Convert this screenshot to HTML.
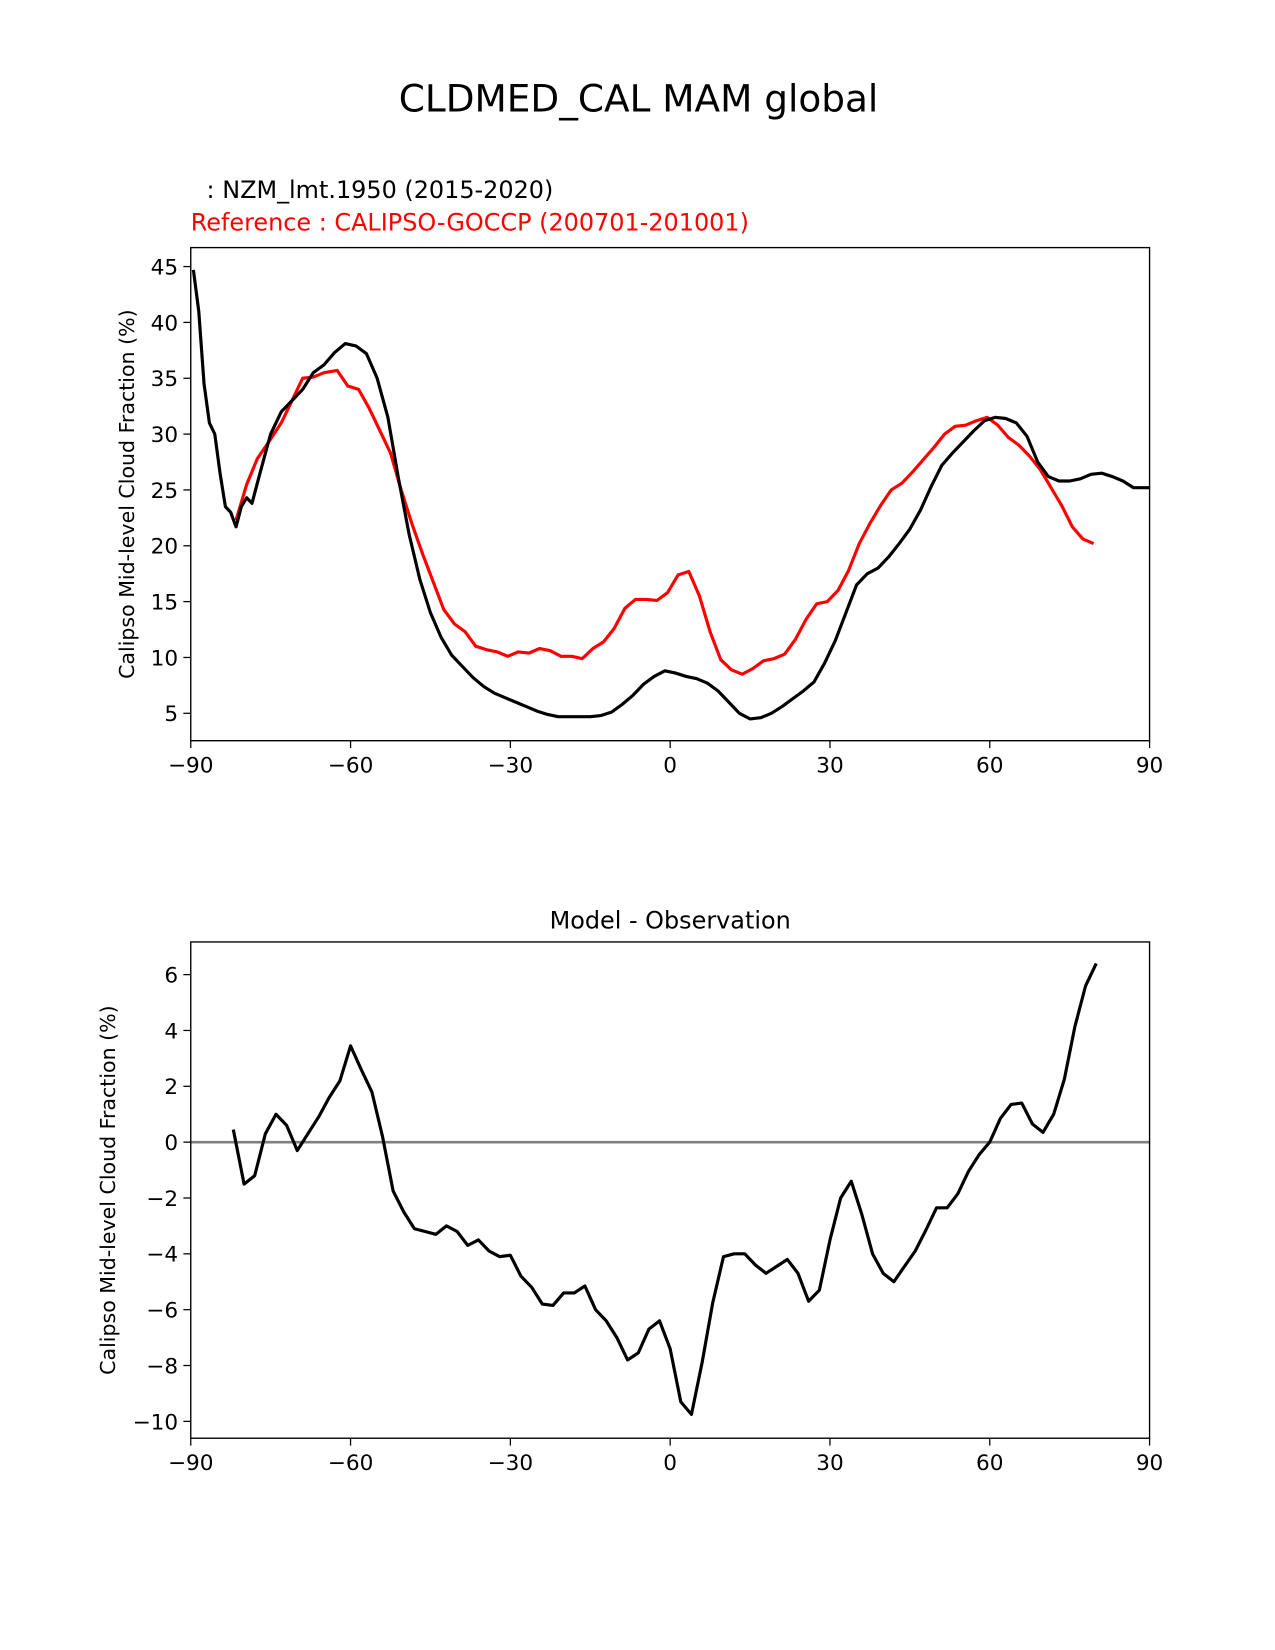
<!DOCTYPE html>
<html><head><meta charset="utf-8"><style>
html,body{margin:0;padding:0;background:#fff;overflow:hidden;width:1275px;height:1650px;}
svg{display:block;font-family:"DejaVu Sans","Liberation Sans",sans-serif;}
</style></head><body>
<svg id="fig" width="1275" height="1650" viewBox="0 0 1210 1566">
<text x="606" y="106" font-size="35.5" text-anchor="middle">CLDMED_CAL MAM global</text>
<text x="196" y="188" font-size="22.7">: NZM_lmt.1950 (2015-2020)</text>
<text x="181" y="219" font-size="22.7" fill="#ff0000">Reference : CALIPSO-GOCCP (200701-201001)</text>
<text x="636" y="881" font-size="22.7" text-anchor="middle">Model - Observation</text>
</svg>
<script>
const latTop=[-89.5,-88.5,-87.5,-86.5,-85.5,-84.5,-83.5,-82.5,-81.5,-80.5,-79.5,-78.5,-77,-75,-73,-71,-69,-67,-65,-63,-61,-59,-57,-55,-53,-51,-49,-47,-45,-43,-41,-39,-37,-35,-33,-31,-29,-27,-25,-23,-21,-19,-17,-15,-13,-11,-9,-7,-5,-3,-1,1,3,5,7,9,11,13,15,17,19,21,23,25,27,29,31,33,35,37,39,41,43,45,47,49,51,53,55,57,59,61,63,65,67,69,71,73,75,77,79,81,83,85,87,89,90];
const modelVals=[44.7,41,34.5,31,30,26.5,23.5,23,21.7,23.5,24.3,23.8,26.5,30,32,33,34,35.5,36.2,37.3,38.1,37.9,37.2,35,31.5,26,21,17,14,11.8,10.2,9.2,8.2,7.4,6.8,6.4,6.0,5.6,5.2,4.9,4.7,4.7,4.7,4.7,4.8,5.1,5.8,6.6,7.6,8.3,8.8,8.6,8.3,8.1,7.7,7.0,6.0,5.0,4.5,4.6,5.0,5.6,6.3,7.0,7.8,9.5,11.5,14,16.5,17.5,18,19,20.2,21.5,23.2,25.3,27.2,28.3,29.3,30.3,31.2,31.5,31.4,31,29.8,27.5,26.2,25.8,25.8,26,26.4,26.5,26.2,25.8,25.2,25.2,25.2];
const latRef=[-81.5,-79.5,-77.5,-75.5,-73,-71,-69,-67,-65,-62.5,-60.5,-58.5,-56.5,-54.5,-52.5,-50.5,-48.5,-46.5,-44.5,-42.5,-40.5,-38.5,-36.5,-34.5,-32.5,-30.5,-28.5,-26.5,-24.5,-22.5,-20.5,-18.5,-16.5,-14.5,-12.5,-10.5,-8.5,-6.5,-4.5,-2.5,-0.5,1.5,3.5,5.5,7.5,9.5,11.5,13.5,15.5,17.5,19.5,21.5,23.5,25.5,27.5,29.5,31.5,33.5,35.5,37.5,39.5,41.5,43.5,45.5,47.5,49.5,51.5,53.5,55.5,57.5,59.5,61.5,63.5,65.5,67.5,69.5,71.5,73.5,75.5,77.5,79.5];
const refVals=[22.3,25.5,27.8,29.2,31,33,35,35.1,35.5,35.7,34.3,34,32.3,30.3,28.3,25,22,19.3,16.8,14.3,13,12.3,11,10.7,10.5,10.1,10.5,10.4,10.8,10.6,10.1,10.1,9.9,10.8,11.4,12.6,14.4,15.2,15.2,15.1,15.8,17.4,17.7,15.5,12.3,9.8,8.9,8.5,9,9.7,9.9,10.3,11.6,13.4,14.8,15,16,17.8,20.2,22,23.6,25,25.6,26.6,27.7,28.8,30,30.7,30.8,31.2,31.5,30.8,29.7,29,28,26.8,25.2,23.6,21.7,20.6,20.2];
const latDiff=[-82,-80,-78,-76,-74,-72,-70,-68,-66,-64,-62,-60,-58,-56,-54,-52,-50,-48,-46,-44,-42,-40,-38,-36,-34,-32,-30,-28,-26,-24,-22,-20,-18,-16,-14,-12,-10,-8,-6,-4,-2,0,2,4,6,8,10,12,14,16,18,20,22,24,26,28,30,32,34,36,38,40,42,44,46,48,50,52,54,56,58,60,62,64,66,68,70,72,74,76,78,80];
const diffVals=[0.45,-1.5,-1.2,0.3,1.0,0.6,-0.3,0.3,0.9,1.6,2.2,3.45,2.6,1.8,0.2,-1.75,-2.5,-3.1,-3.2,-3.3,-3.0,-3.2,-3.7,-3.5,-3.9,-4.1,-4.05,-4.8,-5.2,-5.8,-5.85,-5.4,-5.4,-5.15,-6.0,-6.4,-7.0,-7.8,-7.55,-6.7,-6.4,-7.4,-9.3,-9.75,-7.9,-5.75,-4.1,-4.0,-4.0,-4.4,-4.7,-4.45,-4.2,-4.7,-5.7,-5.3,-3.5,-2.0,-1.4,-2.6,-4.0,-4.7,-5.0,-4.45,-3.9,-3.15,-2.35,-2.35,-1.85,-1.05,-0.45,0,0.85,1.35,1.4,0.65,0.35,1.0,2.25,4.15,5.6,6.4];
const xTicks=[-90,-60,-30,0,30,60,90];
const xTickLabels=["\u221290","\u221260","\u221230","0","30","60","90"];
const yTicksTop=[5,10,15,20,25,30,35,40,45];
const yTicksBot=[-10,-8,-6,-4,-2,0,2,4,6];
const yTickLabelsBot=["\u221210","\u22128","\u22126","\u22124","\u22122","0","2","4","6"];

const NS="http://www.w3.org/2000/svg";
const svg=document.getElementById('fig');
function mk(t,a,p){const e=document.createElementNS(NS,t);for(const k in a)e.setAttribute(k,a[k]);(p||svg).appendChild(e);return e;}
const X0=181,X1=1091;
const xs=v=>X0+(v+90)/180*(X1-X0);
const ysTop=v=>677-(v-5)*10.6;
const ysBot=v=>1084-v*26.5;

function axes(name,top,bot,ys,yt,ytl,ylabel){
  const g=mk('g',{});
  
  
  xTicks.forEach((t,i)=>{
    const x=xs(t);
    const l=mk('line',{x1:x,x2:x,y1:bot,y2:bot+7,stroke:'#000','stroke-width':1.2},g);
    
    
    const tx=mk('text',{x:x,y:bot+30,'font-size':20.5,'text-anchor':'middle'},g);
    tx.textContent=xTickLabels[i];
    
    
  });
  yt.forEach((t,i)=>{
    const y=ys(t);
    const l=mk('line',{x1:X0-7,x2:X0,y1:y,y2:y,stroke:'#000','stroke-width':1.2},g);
    
    
    const tx=mk('text',{x:X0-12,y:y+7.5,'font-size':20.5,'text-anchor':'end'},g);
    tx.textContent=ytl?ytl[i]:String(t);
    
    
  });
  const cy=(top+bot)/2;
  const yl=mk('text',{x:0,y:0,'font-size':19.5,'text-anchor':'middle',transform:`translate(${ylabel},${cy}) rotate(-90)`},g);
  yl.textContent='Calipso Mid-level Cloud Fraction (%)';
  
  
  return g;
}
function line(name,xa,ya,ys,color){
  const d=xa.map((x,i)=>(i?'L':'M')+xs(x).toFixed(1)+','+ys(ya[i]).toFixed(1)).join('');
  const p=mk('path',{d:d,fill:'none',stroke:color,'stroke-width':3,'stroke-linejoin':'round'});
  
  
}
axes('top-axes',235,703,ysTop,yTicksTop,null,127);
line('reference-line',latRef,refVals,ysTop,'#ff0000');
line('model-line',latTop,modelVals,ysTop,'#000');
const f1=mk('rect',{x:X0,y:235,width:X1-X0,height:468,fill:'none',stroke:'#000','stroke-width':1.3});



axes('bottom-axes',894,1365,ysBot,yTicksBot,yTickLabelsBot,109);
const zl=mk('line',{x1:X0,x2:X1,y1:ysBot(0),y2:ysBot(0),stroke:'#808080','stroke-width':2.5});


line('difference-line',latDiff,diffVals,ysBot,'#000');
const f2=mk('rect',{x:X0,y:894,width:X1-X0,height:471,fill:'none',stroke:'#000','stroke-width':1.3});


</script>
</body></html>
